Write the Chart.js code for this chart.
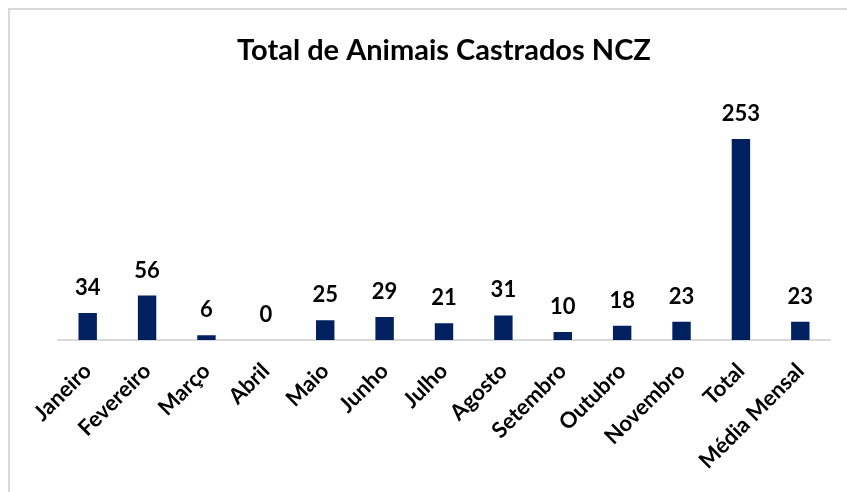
<!DOCTYPE html>
<html>
<head>
<meta charset="utf-8">
<script src="https://cdn.jsdelivr.net/npm/chart.js@4.4.1/dist/chart.umd.min.js"></script>
<style>
  html, body { margin: 0; padding: 0; background: #fff; overflow: hidden; }
  #frame { position: absolute; left: 8px; top: 8px; width: 900px; height: 600px; border: 2px solid #d9d9d9; }
  #wrap { position: absolute; left: 0; top: 0; width: 847px; height: 492px; }
</style>
</head>
<body>
<div id="frame"></div>
<div id="wrap"><canvas id="chart" width="847" height="492"></canvas></div>
<script>
const categories = ['Janeiro', 'Fevereiro', 'Março', 'Abril', 'Maio', 'Junho', 'Julho', 'Agosto',
    'Setembro', 'Outubro', 'Novembro', 'Total', 'Média Mensal'];
const castrados = [34, 56, 6, 0, 25, 29, 21, 31, 10, 18, 23, 253, 23];
const chartTitle = 'Total de Animais Castrados NCZ';

const fontFamily = 'Lato, "Open Sans", sans-serif';

// value labels above each bar
const valueLabels = {
    id: 'valueLabels',
    afterDatasetsDraw(chart) {
        const ctx = chart.ctx;
        const meta = chart.getDatasetMeta(0);
        ctx.save();
        ctx.font = 'bold 22px ' + fontFamily;
        ctx.fillStyle = '#000';
        ctx.textAlign = 'center';
        ctx.textBaseline = 'middle';
        meta.data.forEach((bar, i) => {
            ctx.fillText(String(castrados[i]), bar.x, bar.y - 25);
        });
        ctx.restore();
    }
};

const ctx = document.getElementById('chart').getContext('2d');
new Chart(ctx, {
    type: 'bar',
    data: {
        labels: categories,
        datasets: [{
            label: chartTitle,
            data: castrados,
            backgroundColor: '#002060',
            categoryPercentage: 1,
            barPercentage: 0.31
        }]
    },
    options: {
        responsive: false,
        animation: false,
        layout: { padding: { left: 58, right: 17, top: 0, bottom: 0 } },
        plugins: {
            legend: { display: false },
            tooltip: { enabled: false },
            title: {
                display: true,
                text: chartTitle,
                color: '#000',
                font: { family: fontFamily, size: 29, weight: 'bold' },
                padding: { top: 33, bottom: 34 }
            }
        },
        scales: {
            x: {
                grid: { display: false },
                border: { display: true, color: '#d9d9d9', width: 2 },
                ticks: {
                    color: '#000',
                    font: { family: fontFamily, size: 22, weight: 'bold' },
                    minRotation: 45,
                    maxRotation: 45,
                    autoSkip: false,
                    padding: 10
                },
                afterFit(scale) {
                    scale.height = 152;
                    scale.paddingLeft = 0;
                    scale.paddingRight = 0;
                }
            },
            y: {
                display: false,
                min: 0,
                max: 300
            }
        }
    },
    plugins: [valueLabels]
});
</script>
</body>
</html>
